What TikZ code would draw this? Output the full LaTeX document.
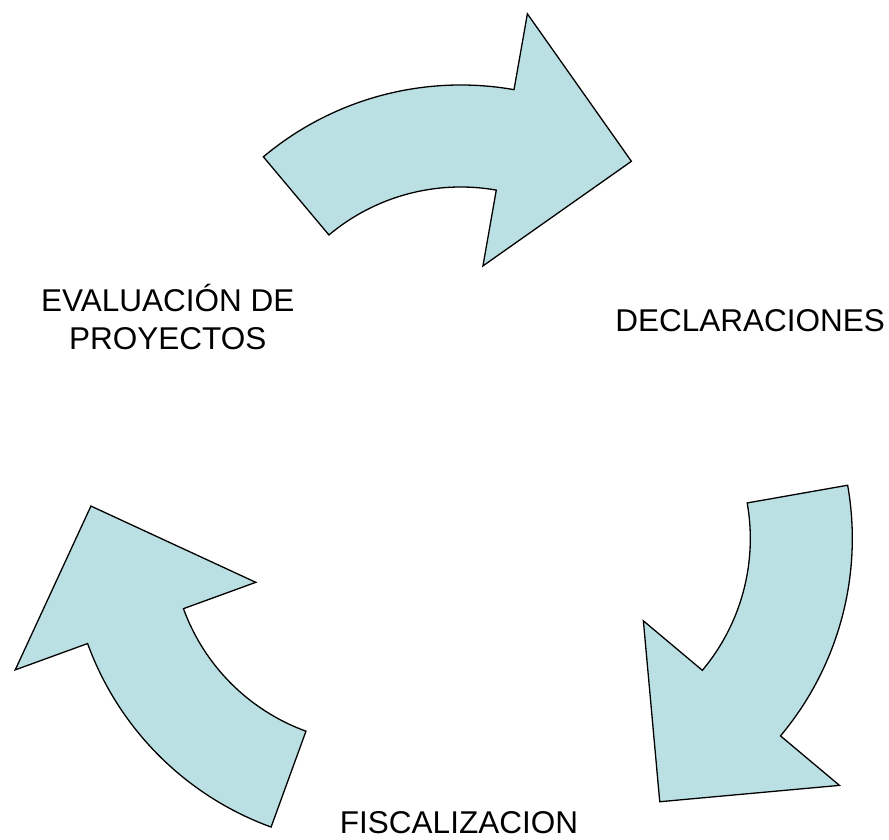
\documentclass[tikz,border=0pt]{standalone}
\usepackage{fontspec}
\setmainfont{Liberation Sans}
\definecolor{arrowblue}{RGB}{187,224,227}
\tikzset{
  every node/.style={font=\fontsize{31.5}{38}\selectfont, align=center, inner sep=0pt}
}
\tikzset{cycle arrow/.style={draw=black, line width=1.3pt, line join=miter, fill=arrowblue}}

\begin{document}
\begin{tikzpicture}[x=1pt,y=1pt]
  \useasboundingbox (-460.7,-350.3) rectangle (428.3,489.7);

  \foreach \a in {90,-30,210} {
    \begin{scope}[shift={(\a:97.7)}, rotate=\a-90]
      \draw [cycle arrow] (130:307) arc [start angle=130, end angle=80, radius=307pt]
        -- (80:384) -- (53.5:287) -- (80:128) -- (80:205)
        arc [start angle=80, end angle=130, radius=205pt] -- cycle;
    \end{scope}
  }

  \node (decl) at (289.5,169)  {DECLARACIONES};
  \node (eval) at (-293,172.6) {EVALUACIÓN DE\\PROYECTOS};
  \node (fisc) at (-1.7,-333)  {FISCALIZACION};

\end{tikzpicture}
\end{document}
